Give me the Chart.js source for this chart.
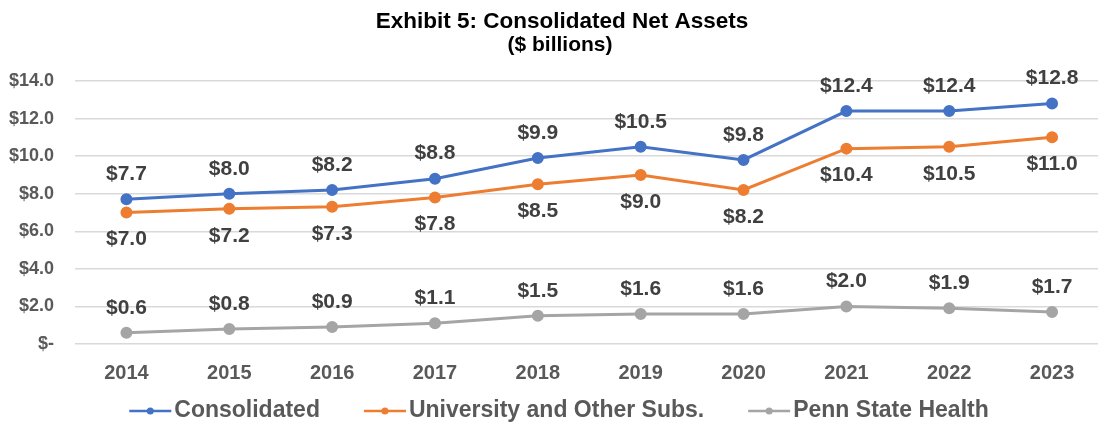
<html lang="en">
<head>
    <meta charset="UTF-8">
    <title>Consolidated Net Assets</title>
    <script src="https://cdn.jsdelivr.net/npm/chart.js"></script>
    <style>
        /* the plot in the original runs a little past the right edge of the picture,
           so the canvas is wider than the window and the extra is cut off */
        body { margin: 0; background: #fff; overflow: hidden; }
    </style>
</head>
<body>
    <canvas id="myChart" width="1111" height="426"></canvas>

    <script>
        // data ($ billions)
        const years = ['2014', '2015', '2016', '2017', '2018', '2019', '2020', '2021', '2022', '2023'];
        const consolidated = [7.7, 8.0, 8.2, 8.8, 9.9, 10.5, 9.8, 12.4, 12.4, 12.8];
        const university = [7.0, 7.2, 7.3, 7.8, 8.5, 9.0, 8.2, 10.4, 10.5, 11.0];
        const pennStateHealth = [0.6, 0.8, 0.9, 1.1, 1.5, 1.6, 1.6, 2.0, 1.9, 1.7];
        const yTicks = [0, 2, 4, 6, 8, 10, 12, 14];

        const FONT = "'Liberation Sans', Arial, sans-serif";
        const TITLE = 'Exhibit 5: Consolidated Net Assets';
        const SUBTITLE = '($ billions)';

        // title block, centred a bit right of the canvas middle like the original
        const titleBlock = {
            id: 'titleBlock',
            afterDraw(chart) {
                let ctx = chart.ctx;
                ctx.save();
                ctx.fillStyle = '#000';
                ctx.textAlign = 'center';
                ctx.textBaseline = 'middle';
                ctx.font = 'bold 22.5px ' + FONT;
                ctx.fillText(TITLE, 562, 22);
                ctx.font = 'bold 21px ' + FONT;
                ctx.fillText(SUBTITLE, 560, 45);
                ctx.restore();
            }
        };

        // draws the value labels above / below the points
        const valueLabels = {
            id: 'valueLabels',
            afterDatasetsDraw(chart) {
                let ctx = chart.ctx;
                ctx.save();
                ctx.font = 'bold 21px ' + FONT;
                ctx.fillStyle = '#404040';
                ctx.textAlign = 'center';
                ctx.textBaseline = 'middle';
                chart.data.datasets.forEach((ds, i) => {
                    let meta = chart.getDatasetMeta(i);
                    meta.data.forEach((pt, j) => {
                        let dy = ds.labelPos === 'below' ? 27 : -25;
                        ctx.fillText('$' + ds.data[j].toFixed(1), pt.x, pt.y + dy);
                    });
                });
                ctx.restore();
            }
        };

        // legend like the excel one: short line with a dot, then the name
        const lineLegend = {
            id: 'lineLegend',
            afterDraw(chart) {
                let ctx = chart.ctx;
                let y = 411, markW = 42, textGap = 3, itemGap = 44;
                ctx.save();
                ctx.font = 'bold 23px ' + FONT;
                let sets = chart.data.datasets;
                let total = 0;
                sets.forEach((ds, i) => {
                    total += markW + textGap + ctx.measureText(ds.label).width;
                    if (i > 0) total += itemGap;
                });
                let x = 559 - total / 2;
                sets.forEach(ds => {
                    ctx.strokeStyle = ds.borderColor;
                    ctx.lineWidth = 2.5;
                    ctx.beginPath();
                    ctx.moveTo(x, y);
                    ctx.lineTo(x + markW, y);
                    ctx.stroke();
                    ctx.fillStyle = ds.borderColor;
                    ctx.beginPath();
                    ctx.arc(x + markW / 2, y, 3.5, 0, Math.PI * 2);
                    ctx.fill();
                    x += markW + textGap;
                    ctx.fillStyle = '#595959';
                    ctx.textAlign = 'left';
                    ctx.textBaseline = 'middle';
                    ctx.fillText(ds.label, x, y);
                    x += ctx.measureText(ds.label).width + itemGap;
                });
                ctx.restore();
            }
        };

        function makeSet(label, data, color, labelPos) {
            return {
                label: label,
                data: data,
                borderColor: color,
                backgroundColor: color,
                borderWidth: 3,
                pointRadius: 4.5,
                pointHoverRadius: 4.5,
                tension: 0,
                labelPos: labelPos
            };
        }

        let ctx = document.getElementById('myChart').getContext('2d');
        let myChart = new Chart(ctx, {
            type: 'line',
            data: {
                labels: years,
                datasets: [
                    makeSet('Consolidated', consolidated, '#4472C4', 'above'),
                    makeSet('University and Other Subs.', university, '#ED7D31', 'below'),
                    makeSet('Penn State Health', pennStateHealth, '#A5A5A5', 'above')
                ]
            },
            plugins: [valueLabels, lineLegend, titleBlock],
            options: {
                responsive: false,
                animation: false,
                layout: { padding: { left: 0, right: 0, top: 81, bottom: 24 } },
                plugins: {
                    legend: { display: false },
                    tooltip: { enabled: false }
                },
                scales: {
                    x: {
                        offset: true,
                        grid: { display: false, drawTicks: false },
                        border: { display: false },
                        ticks: {
                            color: '#595959',
                            padding: 17,
                            font: { family: FONT, size: 20, weight: 'bold' }
                        }
                    },
                    y: {
                        min: 0,
                        max: 14,
                        afterBuildTicks(axis) {
                            axis.ticks = yTicks.map(v => ({ value: v }));
                        },
                        afterFit(axis) {
                            axis.width = 75;
                        },
                        grid: { color: '#D9D9D9', lineWidth: 1.5, drawTicks: false },
                        border: { display: false },
                        ticks: {
                            color: '#595959',
                            padding: 21,
                            font: { family: FONT, size: 18, weight: 'bold' },
                            callback: v => v === 0 ? '$-' : '$' + v.toFixed(1)
                        }
                    }
                }
            }
        });
    </script>
</body>
</html>
